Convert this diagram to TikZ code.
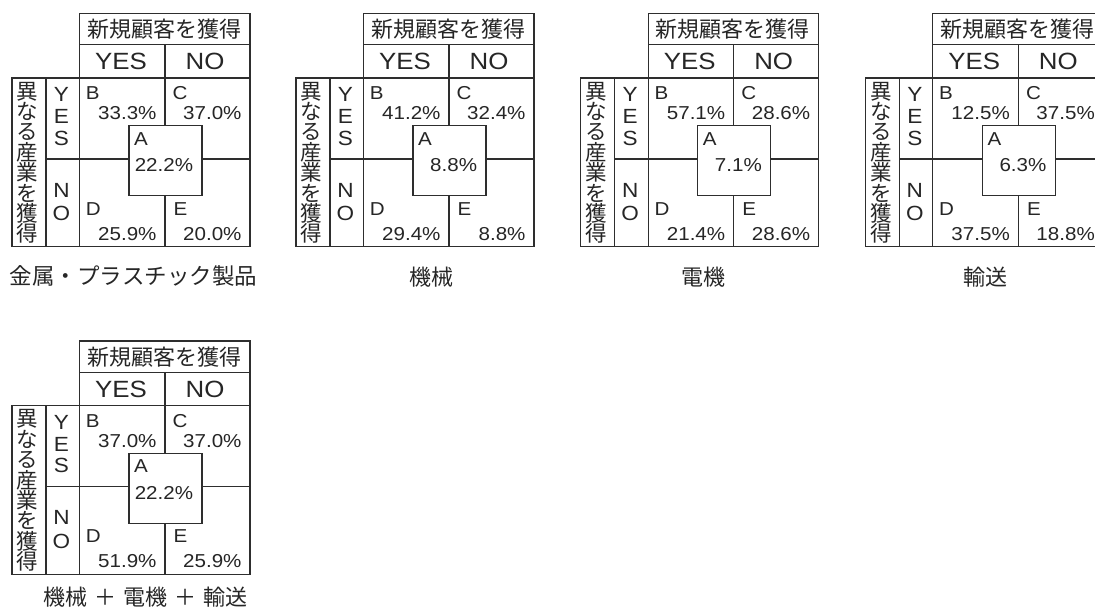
\documentclass[tikz,border=0pt]{standalone}
\usepackage{fontspec}
\setmainfont{Liberation Sans}[FakeStretch=1.1]
\newfontfamily\cjk{Noto Sans CJK JP}
\newcommand{\mxpanel}[8]{%
\begin{scope}[shift={(#2,#3)}]
  \draw[tbl] (67.5,0) rectangle (238,31.3);
  \draw[tbl] (67.5,31.3) rectangle (238,64.7);
  \draw[tbl] (153,31.3) -- (153,64.7);
  \draw[tbl] (0,64.7) rectangle (238,233.3);
  \draw[tbl] (34,64.7) -- (34,233.3);
  \draw[tbl] (67.5,64.7) -- (67.5,233.3);
  \draw[tbl] (153,64.7) -- (153,233.3);
  \draw[tbl] (34,145.7) -- (238,145.7);
  \node[abox] (#1-box) at (153.5,147.4) {};
  \node[hdr] (#1-hdr) at (152.2,15.8) {新規顧客を獲得};
  \node[yn] (#1-yes) at (109,48.3) {YES};
  \node[yn] (#1-no) at (193,48.3) {NO};
  \node[vcjk] (#1-side) at (15.5,149.5) {異\\な\\る\\産\\業\\を\\獲\\得};
  \node[vlat] (#1-vyes) at (49.5,103.3) {Y\\E\\S};
  \node[vlat2] (#1-vno) at (49.5,188.5) {N\\O};
  \node[lbl,anchor=base west] (#1-bl) at (73.7,86) {B};
  \node[lbl,anchor=base east] (#1-bv) at (144.7,106) {#4};
  \node[lbl,anchor=base west] (#1-cl) at (160.5,86) {C};
  \node[lbl,anchor=base east] (#1-cv) at (229.7,106) {#5};
  \node[lbl,anchor=base west] (#1-al) at (122,131.7) {A};
  \node[lbl,anchor=base east] (#1-av) at (181.3,158.4) {#6};
  \node[lbl,anchor=base west] (#1-dl) at (73.7,201.7) {D};
  \node[lbl,anchor=base east] (#1-dv) at (144.7,226.7) {#7};
  \node[lbl,anchor=base west] (#1-el) at (161.5,201.7) {E};
  \node[lbl,anchor=base east] (#1-ev) at (229.7,226.7) {#8};
\end{scope}}
\begin{document}
\begin{tikzpicture}[x=1pt,y=-1pt,
  tbl/.style={draw=black!82, line width=1.3pt},
  abox/.style={draw=black!82, line width=1.3pt, fill=white, minimum width=73pt, minimum height=70pt, inner sep=0pt},
  lbl/.style={inner sep=0pt, text=black!85, font=\fontsize{18.7}{18.7}\selectfont},
  hdr/.style={inner sep=0pt, text=black!85, font=\cjk\fontsize{22}{22}\selectfont},
  yn/.style={inner sep=0pt, text=black!85, font=\fontsize{23.5}{23.5}\selectfont},
  vcjk/.style={inner sep=0pt, text=black!85, align=center, font=\cjk\fontsize{21.5}{20.4}\selectfont},
  vlat/.style={inner sep=0pt, text=black!85, align=center, font=\fontsize{20.5}{21.7}\selectfont},
  vlat2/.style={inner sep=0pt, text=black!85, align=center, font=\fontsize{20.5}{23.3}\selectfont},
  captxt/.style={inner sep=0pt, text=black!85, font=\cjk\fontsize{22}{22}\selectfont}
]
\useasboundingbox (0,0) rectangle (1095,608);
\fill[white] (0,0) rectangle (1095,608);
\mxpanel{p1}{12}{13.3}{33.3\%}{37.0\%}{22.2\%}{25.9\%}{20.0\%}
\mxpanel{p2}{296}{13.3}{41.2\%}{32.4\%}{8.8\%}{29.4\%}{8.8\%}
\mxpanel{p3}{580.7}{13.3}{57.1\%}{28.6\%}{7.1\%}{21.4\%}{28.6\%}
\mxpanel{p4}{865.3}{13.3}{12.5\%}{37.5\%}{6.3\%}{37.5\%}{18.8\%}
\mxpanel{p5}{12}{341}{37.0\%}{37.0\%}{22.2\%}{51.9\%}{25.9\%}
\node[captxt,font=\cjk\fontsize{22.5}{22.5}\selectfont] (cap1) at (133.5,276) {金属・プラスチック製品};
\node[captxt] (cap2) at (431.5,277) {機械};
\node[captxt] (cap3) at (703.3,277) {電機};
\node[captxt] (cap4) at (985.8,277) {輸送};
\node[captxt] (cap5) at (145.8,596.7) {機械\hspace{7pt}＋\hspace{7pt}電機\hspace{7pt}＋\hspace{7pt}輸送};
\end{tikzpicture}
\end{document}
